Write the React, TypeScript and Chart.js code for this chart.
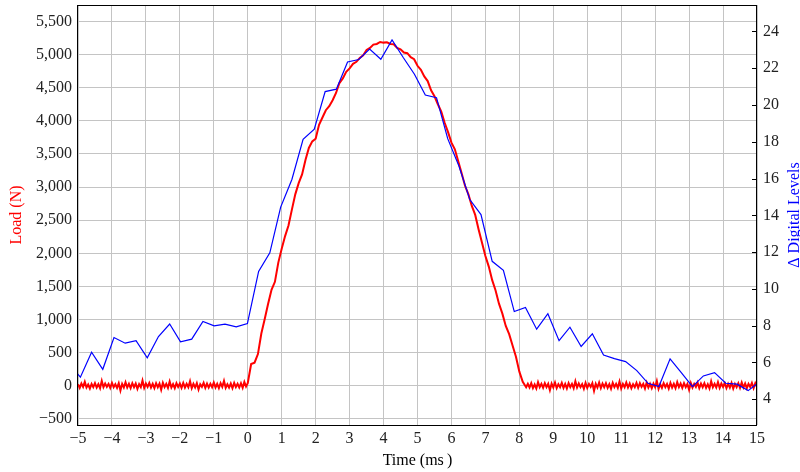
import React, { useEffect, useRef } from "react";
import { Chart, registerables } from "chart.js";

Chart.register(...registerables);

// Axis ticks
const timeTicks = [-5, -4, -3, -2, -1, 0, 1, 2, 3, 4, 5, 6, 7, 8, 9, 10, 11, 12, 13, 14, 15];
const loadTicks = [-500, 0, 500, 1000, 1500, 2000, 2500, 3000, 3500, 4000, 4500, 5000, 5500];
const levelTicks = [4, 6, 8, 10, 12, 14, 16, 18, 20, 22, 24];

// Δ digital levels (right axis), sampled every ~0.33 ms
const levelTime = [
  -5.25, -4.93, -4.6, -4.27, -3.94, -3.61, -3.29, -2.96, -2.63, -2.3, -1.98, -1.65, -1.32, -0.99,
  -0.67, -0.34, -0.01, 0.32, 0.65, 0.97, 1.3, 1.63, 1.96, 2.28, 2.61, 2.94, 3.27, 3.59, 3.92, 4.25,
  4.58, 4.91, 5.23, 5.56, 5.89, 6.22, 6.54, 6.87, 7.2, 7.53, 7.85, 8.18, 8.51, 8.84, 9.17, 9.49,
  9.82, 10.15, 10.48, 10.8, 11.13, 11.46, 11.79, 12.11, 12.44, 12.77, 13.1, 13.42, 13.75, 14.08,
  14.41, 14.74, 15.06,
];
const levelValue = [
  5.9, 5.2, 6.56, 5.63, 7.36, 7.05, 7.19, 6.25, 7.41, 8.09, 7.12, 7.27, 8.23, 7.99, 8.09, 7.94,
  8.12, 10.95, 11.96, 14.45, 15.95, 18.13, 18.68, 20.73, 20.86, 22.34, 22.47, 23.04, 22.49, 23.54,
  22.58, 21.67, 20.54, 20.4, 18.17, 16.68, 14.86, 14.04, 11.5, 11.01, 8.77, 8.99, 7.81, 8.65, 7.19,
  7.92, 6.87, 7.56, 6.41, 6.21, 6.05, 5.56, 4.87, 4.69, 6.2, 5.45, 4.69, 5.27, 5.45, 4.87, 4.82,
  4.47, 4.93,
];

// Load cell record (left axis), in three uniformly sampled segments
// Baseline before the impact: -5.00 .. -0.05 ms, every 0.05 ms
const preStart = -5;
const prePeriod = 0.05;
const preLoad = [
  25, -30, 35, -15, 60, -25, 20, -40, 30, -20,
  40, -25, 25, -35, 75, -20, 35, -15, 30, -30,
  45, -20, 25, -30, 40, -70, 30, -25, 55, -25,
  30, -35, 40, -20, 35, -45, 25, -20, 80, -30,
  35, -15, 45, -25, 30, -35, 40, -20, 35, -60,
  45, -20, 30, -30, 65, -25, 25, -35, 40, -15,
  35, -30, 45, -25, 30, -20, 70, -35, 30, -25,
  40, -55, 25, -15, 45, -30, 35, -25, 30, -20,
  50, -25, 30, -35, 40, -15, 75, -30, 25, -25,
  35, -35, 45, -20, 30, -25, 40, -30, 60, -10,
];
// Load pulse: 0.0 .. 8.2 ms, every 0.1 ms
const pulseStart = 0;
const pulsePeriod = 0.1;
const pulseLoad = [
  40,
  330, 350, 480, 790, 1010, 1240, 1450, 1570, 1860,
  2070, 2260, 2420, 2660, 2890, 3060, 3190, 3410, 3590, 3690,
  3730, 3940, 4050, 4160, 4220, 4310, 4420, 4570, 4640, 4740,
  4790, 4860, 4890, 4950, 4990, 5070, 5100, 5150, 5160, 5190,
  5180, 5185, 5160, 5155, 5100, 5080, 5030, 5020, 4960, 4930,
  4830, 4770, 4670, 4600, 4460, 4370, 4250, 4140, 3970, 3830,
  3670, 3570, 3390, 3210, 3020, 2890, 2715, 2580, 2360, 2160,
  1960, 1800, 1595, 1440, 1240, 1090, 905, 780, 610, 440,
  215, 60, -20,
];
// Baseline after the impact: 8.25 .. 15.00 ms, every 0.05 ms
const postStart = 8.25;
const postPeriod = 0.05;
const postLoad = [
  30, -25, 40, -35, 20, -40, 55, -20, 30, -30,
  40, -20, 30, -65, 35, -25, 50, -35, 25, -20,
  45, -30, 30, -40, 40, -20, 30, -35, 70, -25,
  35, -20, 25, -45, 45, -30, 30, -15, 40, -75,
  30, -25, 50, -35, 35, -20, 40, -30, 25, -45,
  45, -20, 30, -30, 65, -40, 30, -20, 50, -25,
  35, -35, 25, -20, 45, -30, 40, -15, 30, -40,
  50, -25, 30, -35, 35, -20, 75, -45, 25, -30,
  40, -20, 30, -40, 45, -25, 30, -35, 55, -20,
  35, -30, 40, -20, 30, -60, 45, -25, 30, -15,
  50, -35, 35, -20, 40, -30, 25, -40, 70, -20,
  30, -25, 55, -30, 35, -15, 40, -35, 30, -25,
  45, -40, 30, -20, 40, -30, 50, -25, 35, -35,
  30, -20, 45, -35, 40, -15,
];

const RED = "#ff0000";
const BLUE = "#0000ff";
const GRID = "#c4c4c4";
const INK = "#222222";
const FONT = "'Liberation Serif', 'Times New Roman', serif";

const fmt = (v: number) => {
  const s = Math.abs(v).toLocaleString("en-US");
  return v < 0 ? "\u2212" + s : s;
};

const sampled = (start: number, period: number, values: number[]) =>
  values.map((y, i) => ({ x: start + i * period, y }));

const framePlugin = {
  id: "frame",
  afterDraw(chart: any) {
    const { ctx, chartArea } = chart;
    const { left, right, top, bottom } = chartArea;
    const y2 = chart.scales.y2;
    ctx.save();
    ctx.strokeStyle = "#000";
    ctx.lineWidth = 1;
    // inward tick marks on the right axis
    ctx.beginPath();
    for (const v of levelTicks) {
      const p = Math.round(y2.getPixelForValue(v)) + 0.5;
      ctx.moveTo(right - 5, p);
      ctx.lineTo(right, p);
    }
    ctx.stroke();
    ctx.strokeRect(Math.round(left) - 0.5, Math.round(top) + 0.5, Math.round(right - left), Math.round(bottom - top));

    ctx.font = `16px ${FONT}`;
    ctx.textAlign = "center";
    ctx.textBaseline = "middle";
    ctx.fillStyle = "#000";
    ctx.fillText("Time (ms\u2009)", (left + right) / 2, 461);

    const midY = (top + bottom) / 2;
    ctx.save();
    ctx.translate(17, midY);
    ctx.rotate(-Math.PI / 2);
    ctx.fillStyle = RED;
    ctx.fillText("Load (N)", 0, 0);
    ctx.restore();

    ctx.save();
    ctx.translate(795, midY);
    ctx.rotate(-Math.PI / 2);
    ctx.fillStyle = BLUE;
    ctx.fillText("\u0394 Digital Levels", 0, 0);
    ctx.restore();
    ctx.restore();
  },
};

export default function App() {
  const ref = useRef<HTMLCanvasElement | null>(null);

  useEffect(() => {
    if (!ref.current) return;
    const loadPoints = [
      ...sampled(preStart, prePeriod, preLoad),
      ...sampled(pulseStart, pulsePeriod, pulseLoad),
      ...sampled(postStart, postPeriod, postLoad),
    ];
    const levelPoints = levelTime.map((x, i) => ({ x, y: levelValue[i] }));
    const tickFont = { family: FONT, size: 16 };
    const noVerticalOverhang = (s: any) => {
      s.paddingTop = 0;
      s.paddingBottom = 0;
    };

    const chart = new Chart(ref.current, {
      type: "line",
      data: {
        datasets: [
          {
            label: "Δ Digital Levels",
            data: levelPoints,
            yAxisID: "y2",
            borderColor: BLUE,
            borderWidth: 1.2,
            pointRadius: 0,
            tension: 0,
          },
          {
            label: "Load (N)",
            data: loadPoints,
            yAxisID: "y",
            borderColor: RED,
            borderWidth: 2,
            pointRadius: 0,
            tension: 0,
          },
        ],
      },
      options: {
        responsive: false,
        animation: false,
        events: [],
        layout: { padding: { top: 5, left: 0, right: 0, bottom: 0 } },
        plugins: { legend: { display: false }, tooltip: { enabled: false } },
        scales: {
          x: {
            type: "linear",
            min: -5,
            max: 15,
            afterBuildTicks: (s: any) => {
              s.ticks = timeTicks.map((value) => ({ value }));
            },
            afterFit: (s: any) => {
              s.height = 47;
              s.paddingLeft = 0;
              s.paddingRight = 0;
            },
            ticks: { callback: (v: any) => fmt(Number(v)), font: tickFont, color: INK, padding: 4, maxRotation: 0, autoSkip: false },
            grid: { color: GRID, lineWidth: 1, drawTicks: false },
            border: { display: false },
          },
          y: {
            type: "linear",
            position: "left",
            min: -590.6,
            max: 5747.7,
            afterBuildTicks: (s: any) => {
              s.ticks = loadTicks.map((value) => ({ value }));
            },
            afterFit: (s: any) => {
              s.width = 78;
              noVerticalOverhang(s);
            },
            ticks: { callback: (v: any) => fmt(Number(v)), font: tickFont, color: INK, padding: 6, autoSkip: false },
            grid: { color: GRID, lineWidth: 1, drawTicks: false },
            border: { display: false },
          },
          y2: {
            type: "linear",
            position: "right",
            min: 2.602,
            max: 25.436,
            afterBuildTicks: (s: any) => {
              s.ticks = levelTicks.map((value) => ({ value }));
            },
            afterFit: (s: any) => {
              s.width = 43;
              noVerticalOverhang(s);
            },
            ticks: { callback: (v: any) => fmt(Number(v)), font: tickFont, color: INK, padding: 6, autoSkip: false },
            grid: { display: false, drawTicks: false },
            border: { display: false },
          },
        },
      },
      plugins: [framePlugin],
    } as any);

    return () => chart.destroy();
  }, []);

  return (
    <div style={{ position: "fixed", left: 0, top: 0, width: 800, height: 472, background: "#fff" }}>
      <canvas ref={ref} width={800} height={472} style={{ display: "block" }} />
    </div>
  );
}
